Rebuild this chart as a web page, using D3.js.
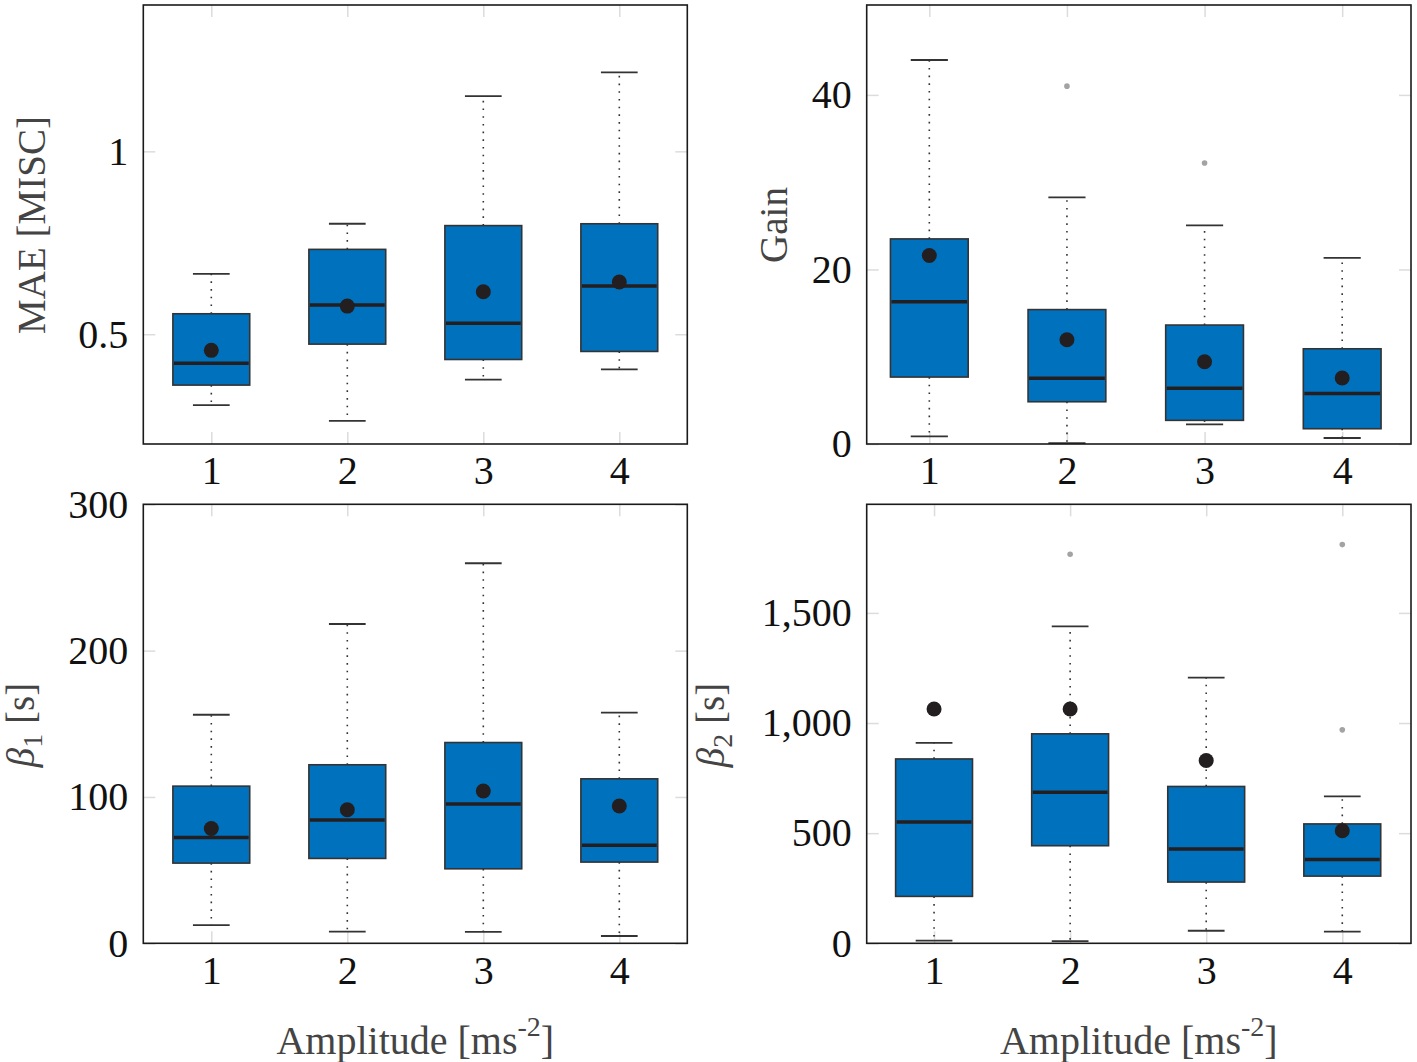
<!DOCTYPE html>
<html>
<head>
<meta charset="utf-8">
<script src="https://cdn.jsdelivr.net/npm/d3@7"></script>
<style>
  body { margin: 0; background: #fff; }
  svg text { font-family: "Liberation Serif", "Times New Roman", serif !important; }
</style>
</head>
<body>
<svg id="chart" width="1417" height="1062"></svg>
<script>
// Amplitude levels on the x axis
const amplitudes = [1, 2, 3, 4];

// MAE [MISC]
const maeLow = [0.306, 0.263, 0.376, 0.404];
const maeQ1 = [0.361, 0.473, 0.431, 0.453];
const maeMedian = [0.421, 0.580, 0.530, 0.632];
const maeQ3 = [0.556, 0.732, 0.797, 0.802];
const maeHigh = [0.665, 0.802, 1.151, 1.216];
const maeMean = [0.456, 0.577, 0.616, 0.643];
const maeOutliers = [];
const maeTicks = [0.5, 1];

// Gain
const gainLow = [0.88, 0.1, 2.26, 0.69];
const gainQ1 = [7.67, 4.84, 2.71, 1.75];
const gainMedian = [16.3, 7.52, 6.38, 5.8];
const gainQ3 = [23.5, 15.4, 13.63, 10.91];
const gainHigh = [44.0, 28.25, 25.04, 21.33];
const gainMean = [21.6, 11.94, 9.42, 7.56];
const gainOutliers = [[2, 41.0], [3, 32.2]];
const gainTicks = [0, 20, 40];

// beta1 [s]
const beta1Low = [12.4, 8.0, 7.8, 5.0];
const beta1Q1 = [54.8, 58.0, 50.9, 55.5];
const beta1Median = [72.3, 84.2, 95.2, 67.0];
const beta1Q3 = [107.4, 122.0, 137.2, 112.4];
const beta1High = [156.2, 218.2, 259.7, 157.6];
const beta1Mean = [78.5, 91.3, 104.1, 93.8];
const beta1Outliers = [];
const beta1Ticks = [0, 100, 200, 300];

// beta2 [s]
const beta2Low = [12, 10, 57, 53];
const beta2Q1 = [213, 443, 278, 305];
const beta2Median = [551, 686, 428, 381];
const beta2Q3 = [837, 951, 712, 542];
const beta2High = [910, 1439, 1206, 667];
const beta2Mean = [1064, 1064, 830, 511];
const beta2Outliers = [[2, 1766], [4, 1810], [4, 969]];
const beta2Ticks = [0, 500, 1000, 1500];

const svg = d3.select("#chart");

// Panel layout
const panels = [
    { left: 143.3, top: 5, right: 687.3, bottom: 444, xDomain: [0.5, 4.5], yDomain: [0.2, 1.4],
      low: maeLow, q1: maeQ1, median: maeMedian, q3: maeQ3, high: maeHigh, mean: maeMean,
      outliers: maeOutliers, ticks: maeTicks, fmt: d3.format("") },
    { left: 866.7, top: 5, right: 1411, bottom: 444, xDomain: [0.545, 4.5], yDomain: [0, 50.3],
      low: gainLow, q1: gainQ1, median: gainMedian, q3: gainQ3, high: gainHigh, mean: gainMean,
      outliers: gainOutliers, ticks: gainTicks, fmt: d3.format("") },
    { left: 143.3, top: 504.3, right: 687.3, bottom: 943.3, xDomain: [0.5, 4.5], yDomain: [0, 300],
      low: beta1Low, q1: beta1Q1, median: beta1Median, q3: beta1Q3, high: beta1High, mean: beta1Mean,
      outliers: beta1Outliers, ticks: beta1Ticks, fmt: d3.format("") },
    { left: 866.7, top: 504.3, right: 1411, bottom: 943.3, xDomain: [0.505, 4.505], yDomain: [0, 1993],
      low: beta2Low, q1: beta2Q1, median: beta2Median, q3: beta2Q3, high: beta2High, mean: beta2Mean,
      outliers: beta2Outliers, ticks: beta2Ticks, fmt: d3.format(",") }
];

const boxWidth = 0.565; // in x units
const capWidth = 0.27;

function drawPanel(p) {
    const g = svg.append("g");
    const x = d3.scaleLinear().domain(p.xDomain).range([p.left, p.right]);
    const y = d3.scaleLinear().domain(p.yDomain).range([p.bottom, p.top]);

    // light gray inner tick marks on all four sides
    const tickLen = 12;
    const innerAxes = [
        [d3.axisBottom(x).tickValues(amplitudes).tickSize(-tickLen), `translate(0,${p.bottom})`],
        [d3.axisTop(x).tickValues(amplitudes).tickSize(-tickLen), `translate(0,${p.top})`],
        [d3.axisLeft(y).tickValues(p.ticks).tickSize(-tickLen), `translate(${p.left},0)`],
        [d3.axisRight(y).tickValues(p.ticks).tickSize(-tickLen), `translate(${p.right},0)`]
    ];
    innerAxes.forEach(([axis, tr]) => {
        const a = g.append("g").attr("transform", tr).call(axis.tickFormat(""));
        a.select(".domain").remove();
        a.selectAll("line").attr("stroke", "#dcdcdc").attr("stroke-width", 1.5);
    });

    // tick labels
    const xa = g.append("g")
        .attr("transform", `translate(0,${p.bottom})`)
        .call(d3.axisBottom(x).tickValues(amplitudes).tickSize(0).tickPadding(12).tickFormat(d3.format("d")));
    const ya = g.append("g")
        .attr("transform", `translate(${p.left},0)`)
        .call(d3.axisLeft(y).tickValues(p.ticks).tickSize(0).tickPadding(15).tickFormat(p.fmt));
    [xa, ya].forEach(a => {
        a.select(".domain").remove();
        a.attr("font-family", null).attr("font-size", 40);
        a.selectAll("text").attr("fill", "#111");
    });

    const rows = amplitudes.map((a, i) => ({
        a, low: p.low[i], q1: p.q1[i], median: p.median[i], q3: p.q3[i], high: p.high[i], mean: p.mean[i]
    }));

    const box = g.append("g").selectAll("g").data(rows).enter().append("g");

    // dotted whiskers
    box.append("line")
        .attr("x1", d => x(d.a)).attr("x2", d => x(d.a))
        .attr("y1", d => y(d.q3)).attr("y2", d => y(d.high))
        .attr("stroke", "#333").attr("stroke-width", 1.6).attr("stroke-dasharray", "1.6 6.1");
    box.append("line")
        .attr("x1", d => x(d.a)).attr("x2", d => x(d.a))
        .attr("y1", d => y(d.q1)).attr("y2", d => y(d.low))
        .attr("stroke", "#333").attr("stroke-width", 1.6).attr("stroke-dasharray", "1.6 6.1");

    // whisker caps
    ["low", "high"].forEach(k => {
        box.append("line")
            .attr("x1", d => x(d.a - capWidth / 2)).attr("x2", d => x(d.a + capWidth / 2))
            .attr("y1", d => y(d[k])).attr("y2", d => y(d[k]))
            .attr("stroke", "#333").attr("stroke-width", 1.8);
    });

    // boxes
    box.append("rect")
        .attr("x", d => x(d.a - boxWidth / 2))
        .attr("width", d => x(d.a + boxWidth / 2) - x(d.a - boxWidth / 2))
        .attr("y", d => y(d.q3))
        .attr("height", d => y(d.q1) - y(d.q3))
        .attr("fill", "#0072bd")
        .attr("stroke", "#333")
        .attr("stroke-width", 1.6);

    // median
    box.append("line")
        .attr("x1", d => x(d.a - boxWidth / 2) + 1).attr("x2", d => x(d.a + boxWidth / 2) - 1)
        .attr("y1", d => y(d.median)).attr("y2", d => y(d.median))
        .attr("stroke", "#231f20").attr("stroke-width", 3.5);

    // mean marker
    box.append("circle")
        .attr("cx", d => x(d.a)).attr("cy", d => y(d.mean)).attr("r", 7.5)
        .attr("fill", "#231f20");

    // outliers
    g.append("g").selectAll("circle").data(p.outliers).enter().append("circle")
        .attr("cx", d => x(d[0])).attr("cy", d => y(d[1])).attr("r", 2.8)
        .attr("fill", "#a3a3a3");

    // frame
    g.append("rect")
        .attr("x", p.left).attr("y", p.top)
        .attr("width", p.right - p.left).attr("height", p.bottom - p.top)
        .attr("fill", "none").attr("stroke", "#1a1a1a").attr("stroke-width", 1.6);
}

panels.forEach(drawPanel);

// Axis titles
const titleColor = "#444";
svg.append("text")
    .attr("transform", "translate(45,225) rotate(-90)")
    .attr("text-anchor", "middle").attr("font-size", 39).attr("fill", titleColor)
    .text("MAE [MISC]");

svg.append("text")
    .attr("transform", "translate(787,225) rotate(-90)")
    .attr("text-anchor", "middle").attr("font-size", 39).attr("fill", titleColor)
    .text("Gain");

function betaLabel(tx, ty, sub) {
    const t = svg.append("text")
        .attr("transform", `translate(${tx},${ty}) rotate(-90)`)
        .attr("text-anchor", "middle").attr("font-size", 39).attr("fill", titleColor);
    t.append("tspan").attr("font-style", "italic").text("β");
    t.append("tspan").attr("font-size", 28).attr("dy", 8).text(sub);
    t.append("tspan").attr("dy", -8).text("\u00a0[s]");
}
betaLabel(34, 725, "1");
betaLabel(724, 725, "2");

function ampLabel(cx) {
    const t = svg.append("text")
        .attr("x", cx).attr("y", 1054)
        .attr("text-anchor", "middle").attr("font-size", 40).attr("fill", titleColor);
    t.append("tspan").text("Amplitude [ms");
    t.append("tspan").attr("font-size", 28).attr("dy", -18).text("-2");
    t.append("tspan").attr("dy", 18).text("]");
}
ampLabel(415.3);
ampLabel(1138.8);
</script>
</body>
</html>
